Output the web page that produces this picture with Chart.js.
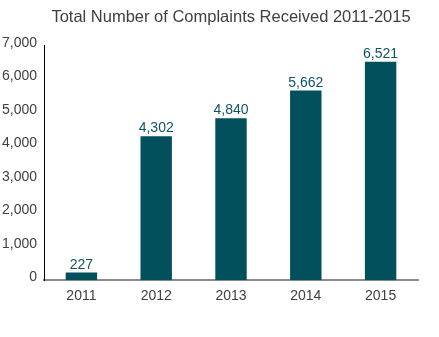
<!DOCTYPE html>
<html>
<head>
<meta charset="utf-8">
<script src="https://cdn.jsdelivr.net/npm/chart.js@4/dist/chart.umd.min.js"></script>
<style>
  body { margin: 0; background: #fff; }
  #wrap { width: 439px; height: 337px; }
</style>
</head>
<body>
<div id="wrap"><canvas id="myChart" width="439" height="337"></canvas></div>
<script>
// complaints per year
let years = ["2011", "2012", "2013", "2014", "2015"];
let complaints = [227, 4302, 4840, 5662, 6521];
let yTicks = [0, 1000, 2000, 3000, 4000, 5000, 6000, 7000];

let barColor = "#03505d";
let textGray = "#404040";
let fontFamily = "'Liberation Sans', Arial, sans-serif";

function fmt(n) {
    return n.toLocaleString("en-US");
}

// write the value above every bar
let valueLabels = {
    id: "valueLabels",
    afterDatasetsDraw: function (chart) {
        let ctx = chart.ctx;
        let meta = chart.getDatasetMeta(0);
        ctx.save();
        ctx.font = "14px " + fontFamily;
        ctx.fillStyle = "#0d5562";
        ctx.textAlign = "center";
        ctx.textBaseline = "alphabetic";
        meta.data.forEach(function (bar, i) {
            ctx.fillText(fmt(complaints[i]), bar.x, bar.y - 4);
        });
        ctx.restore();
    }
};

new Chart("myChart", {
    type: "bar",
    data: {
        labels: years,
        datasets: [{
            data: complaints,
            backgroundColor: barColor,
            borderWidth: 0,
            categoryPercentage: 1,
            barPercentage: 0.42
        }]
    },
    options: {
        responsive: false,
        animation: false,
        layout: { padding: { left: 0, right: 21, top: 0, bottom: 24 } },
        plugins: {
            legend: { display: false },
            tooltip: { enabled: false },
            title: {
                display: true,
                fullSize: false,
                text: "Total Number of Complaints Received 2011-2015",
                color: textGray,
                font: { family: fontFamily, size: 16.5, weight: "normal" },
                padding: { top: 8, bottom: 18 }
            }
        },
        scales: {
            x: {
                grid: { display: false, drawTicks: false },
                border: { display: true, color: "#8c8c8c", width: 2 },
                ticks: {
                    color: textGray,
                    padding: 8,
                    font: { family: fontFamily, size: 14 }
                }
            },
            y: {
                min: yTicks[0],
                max: yTicks[yTicks.length - 1],
                afterBuildTicks: function (axis) {
                    axis.ticks = yTicks.map(function (v) { return { value: v }; });
                },
                afterFit: function (axis) {
                    axis.width = 44;
                },
                grid: { display: false, drawTicks: false },
                border: { display: true, color: "#000", width: 1 },
                ticks: {
                    color: textGray,
                    padding: 7,
                    labelOffset: -3,
                    font: { family: fontFamily, size: 14 },
                    callback: function (v) { return fmt(v); }
                }
            }
        }
    },
    plugins: [valueLabels]
});
</script>
</body>
</html>
